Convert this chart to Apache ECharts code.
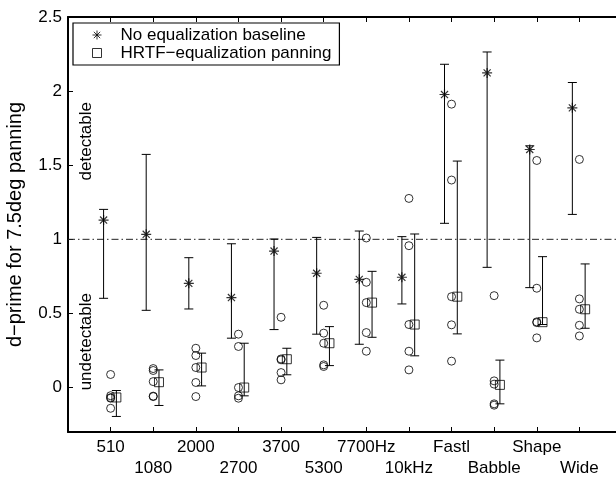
<!DOCTYPE html>
<html><head><meta charset="utf-8">
<script src="https://cdn.jsdelivr.net/npm/echarts@6/dist/echarts.min.js"></script>
<style>html,body{margin:0;padding:0;background:#fff}#c{width:616px;height:477px}</style>
</head><body><div id="c"></div>
<script>
// ---- data ----
const categories = ['510','1080','2000','2700','3700','5300','7700Hz','10kHz','Fastl','Babble','Shape','Wide'];
const baseMean = [1.130, 1.034, 0.703, 0.607, 0.921, 0.771, 0.730, 0.744, 1.977, 2.123, 1.606, 1.887];
const baseLow  = [0.602, 0.521, 0.530, 0.333, 0.391, 0.360, 0.292, 0.564, 1.108, 0.811, 0.674, 1.168];
const baseHigh = [1.202, 1.573, 0.876, 0.970, 1.002, 1.013, 1.056, 1.018, 2.181, 2.264, 1.631, 2.058];
const eqMedian = [-0.067, 0.036, 0.135, 0.000, 0.191, 0.299, 0.573, 0.425, 0.613, 0.018, 0.441, 0.528];
const eqLow    = [-0.195,-0.121, 0.011,-0.056, 0.086, 0.148, 0.339, 0.214, 0.362,-0.110, 0.425, 0.400];
const eqHigh   = [-0.020, 0.119, 0.232, 0.299, 0.265, 0.411, 0.784, 1.036, 1.528, 0.185, 0.883, 0.834];
const subjects = [
  [0.088,-0.055,-0.068,-0.072,-0.140],
  [0.128, 0.115, 0.040,-0.061,-0.058],
  [0.265, 0.216, 0.135, 0.034,-0.061],
  [0.360, 0.277, 0.000,-0.056,-0.072],
  [0.474, 0.193, 0.187, 0.101, 0.052],
  [0.555, 0.367, 0.299, 0.153, 0.142],
  [1.009, 0.710, 0.573, 0.371, 0.245],
  [1.276, 0.957, 0.425, 0.245, 0.119],
  [1.912, 1.400, 0.613, 0.423, 0.178],
  [0.620, 0.045, 0.023,-0.110,-0.119],
  [1.532, 0.670, 0.443, 0.438, 0.335],
  [1.539, 0.598, 0.528, 0.420, 0.348]
];
const yTicks = [0, 0.5, 1, 1.5, 2, 2.5];
const yTickLabels = ['0', '0.5', '1', '1.5', '2', '2.5'];
const threshold = 1;
const legendNames = ['No equalization baseline', 'HRTF\u2212equalization panning'];
const yTitle = 'd\u2212prime for 7.5deg panning';
const zoneLabels = ['detectable', 'undetectable'];

// ---- chart ----
const FONT = '"Liberation Sans", Arial, Helvetica, sans-serif';
const STAR = 'path://M0,-10L0,10M-10,0L10,0M-7.07,-7.07L7.07,7.07M-7.07,7.07L7.07,-7.07';
const catPos = categories.map((c, i) => i + 1);
const rowA = catPos.filter((p, i) => i % 2 === 0);
const rowB = catPos.filter((p, i) => i % 2 === 1);
const OFF_BASE = -0.165, OFF_EQ = 0.135;

function errSeries(name, offset, lows, highs) {
  return {
    type: 'custom', name: name, silent: true, z: 3,
    data: catPos.map((p, i) => [p + offset, lows[i], highs[i]]),
    encode: { x: 0, y: [1, 2] },
    renderItem: function (params, api) {
      const x = api.value(0);
      const lo = api.coord([x, api.value(1)]);
      const hi = api.coord([x, api.value(2)]);
      const w = 4.5;
      const style = { stroke: '#000', lineWidth: 1 };
      return { type: 'group', children: [
        { type: 'line', shape: { x1: lo[0], y1: lo[1], x2: hi[0], y2: hi[1] }, style: style },
        { type: 'line', shape: { x1: lo[0] - w, y1: lo[1], x2: lo[0] + w, y2: lo[1] }, style: style },
        { type: 'line', shape: { x1: hi[0] - w, y1: hi[1], x2: hi[0] + w, y2: hi[1] }, style: style }
      ]};
    }
  };
}

const subjData = [];
subjects.forEach((arr, i) => arr.forEach(v => subjData.push([catPos[i], v])));

function catLabel(v) {
  const i = Math.round(v) - 1;
  return (i >= 0 && i < categories.length) ? categories[i] : '';
}

const chart = echarts.init(document.getElementById('c'), null, { renderer: 'canvas' });
const axisLine = { show: true, onZero: false, lineStyle: { color: '#000', width: 2 } };
const tickStyle = { color: '#000', width: 1 };
chart.setOption({
  animation: false,
  backgroundColor: '#fff',
  textStyle: { fontFamily: FONT, color: '#000' },
  grid: { left: 68, top: 17, width: 554, height: 415, containLabel: false, outerBoundsMode: 'none' },
  legend: {
    orient: 'vertical', left: 73, top: 23,
    data: [
      { name: legendNames[0], icon: STAR, itemStyle: { color: 'rgba(0,0,0,0)', borderColor: '#000', borderWidth: 1 } },
      { name: legendNames[1], icon: 'rect', itemStyle: { color: 'rgba(0,0,0,0)', borderColor: '#000', borderWidth: 1 } }
    ],
    itemWidth: 9, itemHeight: 9, itemGap: 0,
    padding: [3, 8, 3, 19],
    borderColor: '#000', borderWidth: 1.2, backgroundColor: '#fff',
    textStyle: { fontFamily: FONT, fontSize: 17, color: '#000', lineHeight: 18, padding: [0, 0, 0, 14] },
    selectedMode: false
  },
  xAxis: [
    {
      type: 'value', position: 'bottom', min: 0, max: 13,
      axisLine: axisLine,
      splitLine: { show: false },
      axisTick: { show: true, inside: true, length: 5, customValues: catPos, lineStyle: tickStyle },
      axisLabel: {
        show: true, customValues: rowA, margin: 7, fontFamily: FONT, fontSize: 17, color: '#000',
        hideOverlap: false, formatter: catLabel
      }
    },
    {
      type: 'value', position: 'bottom', min: 0, max: 13,
      axisLine: { show: false }, splitLine: { show: false }, axisTick: { show: false },
      axisLabel: {
        show: true, customValues: rowB, margin: 28, fontFamily: FONT, fontSize: 17, color: '#000',
        hideOverlap: false, formatter: catLabel
      }
    },
    {
      type: 'value', position: 'top', min: 0, max: 13,
      axisLine: axisLine, splitLine: { show: false },
      axisTick: { show: true, inside: true, length: 5, customValues: catPos, lineStyle: tickStyle },
      axisLabel: { show: false }
    }
  ],
  yAxis: [
    {
      type: 'value', position: 'left', min: -0.3, max: 2.5,
      axisLine: axisLine, splitLine: { show: false },
      axisTick: { show: true, inside: true, length: 5, customValues: yTicks, lineStyle: tickStyle },
      axisLabel: {
        show: true, customValues: yTicks, margin: 6, fontFamily: FONT, fontSize: 17, color: '#000',
        formatter: function (v) { const k = yTicks.indexOf(v); return k >= 0 ? yTickLabels[k] : ''; }
      },
      name: yTitle, nameLocation: 'middle', nameGap: 43,
      nameTextStyle: { fontFamily: FONT, fontSize: 20, color: '#000' }
    },
    {
      type: 'value', position: 'right', min: -0.3, max: 2.5,
      axisLine: axisLine, splitLine: { show: false },
      axisTick: { show: true, inside: true, length: 5, customValues: yTicks, lineStyle: tickStyle },
      axisLabel: { show: false }
    }
  ],
  graphic: [
    { type: 'text', left: 78, top: 102, rotation: Math.PI / 2, style: { text: zoneLabels[0], font: '17px ' + FONT, fill: '#000' } },
    { type: 'text', left: 78, top: 293, rotation: Math.PI / 2, style: { text: zoneLabels[1], font: '17px ' + FONT, fill: '#000' } }
  ],
  series: [
    {
      type: 'line', name: 'threshold', silent: true, z: 1, symbol: 'none',
      data: [[0, threshold], [13, threshold]],
      lineStyle: { color: '#222', width: 1, type: [7, 3, 1.5, 3] }
    },
    errSeries('baseErr', OFF_BASE, baseLow, baseHigh),
    errSeries('eqErr', OFF_EQ, eqLow, eqHigh),
    {
      type: 'scatter', name: legendNames[0], z: 5, symbol: STAR, symbolSize: 10,
      data: catPos.map((p, i) => [p + OFF_BASE, baseMean[i]]),
      itemStyle: { color: 'rgba(0,0,0,0)', borderColor: '#000', borderWidth: 1.2 }
    },
    {
      type: 'scatter', name: 'subjects', z: 4, symbol: 'circle', symbolSize: 8,
      data: subjData,
      itemStyle: { color: 'rgba(0,0,0,0)', borderColor: '#000', borderWidth: 1 }
    },
    {
      type: 'scatter', name: legendNames[1], z: 5, symbol: 'rect', symbolSize: 9,
      data: catPos.map((p, i) => [p + OFF_EQ, eqMedian[i]]),
      itemStyle: { color: 'rgba(0,0,0,0)', borderColor: '#000', borderWidth: 1 }
    }
  ]
});
</script></body></html>
